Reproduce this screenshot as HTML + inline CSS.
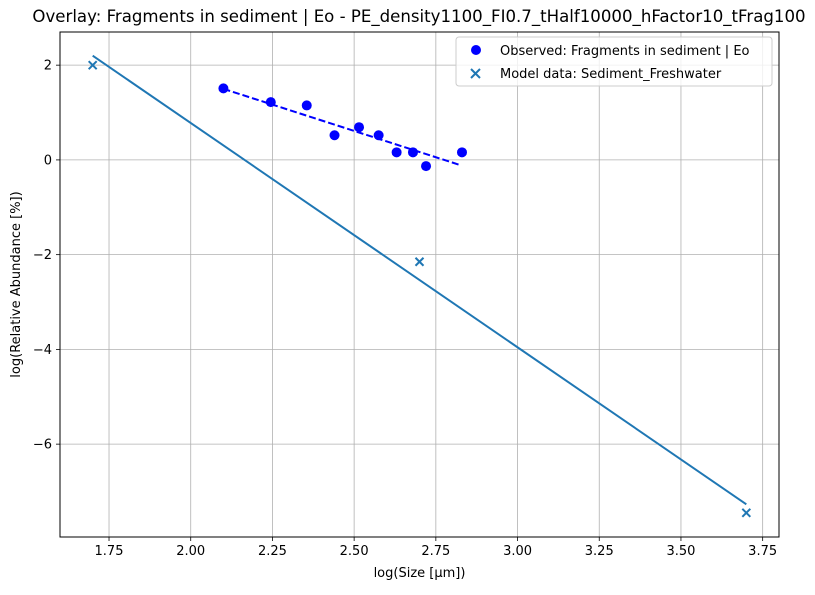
<!DOCTYPE html>
<html><head><meta charset="utf-8"><style>
body{margin:0;background:#fff;}
svg text{font-family:"DejaVu Sans","Liberation Sans",sans-serif;fill:#000;}
</style></head><body>
<svg id="chart" width="815" height="590" xmlns="http://www.w3.org/2000/svg">
<text x="419" y="22" text-anchor="middle" font-size="16.6">Overlay: Fragments in sediment | Eo - PE_density1100_FI0.7_tHalf10000_hFactor10_tFrag100</text>
<g id="grid"></g>
<g id="marks"></g>
<rect x="60" y="32" width="719" height="505" fill="none" stroke="#000" stroke-width="1"/>
<g id="ticks"></g>
<text x="419.5" y="577" text-anchor="middle" font-size="13">log(Size [µm])</text>
<text transform="translate(20,284.5) rotate(-90)" text-anchor="middle" font-size="13">log(Relative Abundance [%])</text>
<g>
<rect x="456" y="37" width="316" height="49" rx="3" fill="#fff" fill-opacity="0.8" stroke="#ccc"/>
<circle cx="476" cy="50" r="5" fill="#0000ff"/>
<text x="500" y="55" font-size="13">Observed: Fragments in sediment | Eo</text>
<path d="M471,69 l9,9 M480,69 l-9,9" stroke="#1f77b4" stroke-width="2"/>
<text x="500" y="78" font-size="13">Model data: Sediment_Freshwater</text>
</g>
</svg>
<script>
const obsX=[2.10,2.245,2.355,2.44,2.515,2.575,2.63,2.68,2.72,2.83];
const obsY=[1.51,1.22,1.15,0.52,0.69,0.52,0.16,0.16,-0.13,0.16];
const fitX=[2.10,2.825];
const fitY=[1.50,-0.11];
const modelX=[1.7,2.7,3.7];
const modelY=[2.0,-2.15,-7.45];
const lineX=[1.7,3.7];
const lineY=[2.2,-7.27];
const xTicks=[1.75,2.00,2.25,2.50,2.75,3.00,3.25,3.50,3.75];
const xTickLabels=["1.75","2.00","2.25","2.50","2.75","3.00","3.25","3.50","3.75"];
const yTicks=[2,0,-2,-4,-6];
const yTickLabels=["2","0","−2","−4","−6"];

const X0=60,X1=779,Y0=32,Y1=537,xmin=1.6,xmax=3.8,ymin=-7.96,ymax=2.70;
const sx=v=>X0+(v-xmin)/(xmax-xmin)*(X1-X0);
const sy=v=>Y1-(v-ymin)/(ymax-ymin)*(Y1-Y0);
const NS="http://www.w3.org/2000/svg";
function mk(tag,attrs,parent){const e=document.createElementNS(NS,tag);for(const k in attrs)e.setAttribute(k,attrs[k]);document.getElementById(parent).appendChild(e);return e;}

xTicks.forEach((t,i)=>{
  const g=mk('line',{x1:sx(t),x2:sx(t),y1:Y0,y2:Y1,stroke:'#b0b0b0','stroke-width':0.8},'grid');
  
  
  const tk=mk('line',{x1:sx(t),x2:sx(t),y1:Y1,y2:Y1+4,stroke:'#000','stroke-width':0.8},'ticks');
  
  
  const tx=mk('text',{x:sx(t),y:Y1+18,'text-anchor':'middle','font-size':13},'ticks');
  tx.textContent=xTickLabels[i];
  
  
});
yTicks.forEach((t,i)=>{
  const g=mk('line',{x1:X0,x2:X1,y1:sy(t),y2:sy(t),stroke:'#b0b0b0','stroke-width':0.8},'grid');
  
  
  const tk=mk('line',{x1:X0-4,x2:X0,y1:sy(t),y2:sy(t),stroke:'#000','stroke-width':0.8},'ticks');
  
  
  const tx=mk('text',{x:X0-8,y:sy(t)+4.5,'text-anchor':'end','font-size':13},'ticks');
  tx.textContent=yTickLabels[i];
  
  
});
const ml=mk('line',{x1:sx(lineX[0]),y1:sy(lineY[0]),x2:sx(lineX[1]),y2:sy(lineY[1]),stroke:'#1f77b4','stroke-width':2},'marks');


const fl=mk('line',{x1:sx(fitX[0]),y1:sy(fitY[0]),x2:sx(fitX[1]),y2:sy(fitY[1]),stroke:'#0000ff','stroke-width':2,'stroke-dasharray':'7,3'},'marks');


obsX.forEach((x,i)=>{
  const c=mk('circle',{cx:sx(x),cy:sy(obsY[i]),r:5,fill:'#0000ff'},'marks');
  
  
});
modelX.forEach((x,i)=>{
  const px=sx(x),py=sy(modelY[i]);
  const p=mk('path',{d:`M${px-4},${py-4} L${px+4},${py+4} M${px+4},${py-4} L${px-4},${py+4}`,stroke:'#1f77b4','stroke-width':2},'marks');
  
  
});
</script>
</body></html>
